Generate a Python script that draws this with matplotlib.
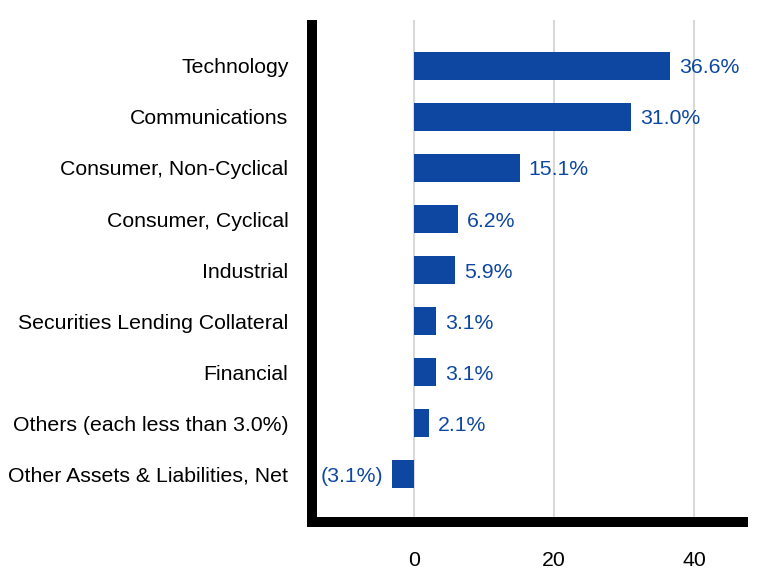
import matplotlib
matplotlib.use("Agg")
import matplotlib.pyplot as plt

plt.rcParams['font.family'] = ['Liberation Sans', 'DejaVu Sans']

sectors = ["Technology", "Communications", "Consumer, Non-Cyclical", "Consumer, Cyclical",
           "Industrial", "Securities Lending Collateral", "Financial",
           "Others (each less than 3.0%)", "Other Assets & Liabilities, Net"]
weights = [36.6, 31.0, 15.1, 6.2, 5.9, 3.1, 3.1, 2.1, -3.1]
x_ticks = [0, 20, 40]

bar_color = '#0d47a1'
fs = 15.3

fig = plt.figure(figsize=(7.8, 5.88), dpi=100)
ax = fig.add_axes([0.4, 0.112, 0.5526, 0.854])

ypos = list(range(len(sectors)))
ax.barh(ypos, weights, height=0.55, color=bar_color, zorder=3)

for y, v in zip(ypos, weights):
    if v >= 0:
        ax.annotate('{:.1f}%'.format(v), (v, y), xytext=(9, 0), textcoords='offset pixels',
                    ha='left', va='center_baseline', color=bar_color, fontsize=fs)
    else:
        ax.annotate('({:.1f}%)'.format(-v), (v, y), xytext=(-9, 0), textcoords='offset pixels',
                    ha='right', va='center_baseline', color=bar_color, fontsize=fs)

ax.set_xlim(-14.6, 47.0)
ax.set_ylim(8.94, -0.9)
ax.set_yticks(ypos)
ax.set_yticklabels(sectors, fontsize=fs)
ax.set_xticks(x_ticks)
ax.set_xticklabels([str(t) for t in x_ticks], fontsize=fs)
ax.tick_params(axis='y', length=0, pad=17)
ax.tick_params(axis='x', length=0, pad=21)

ax.grid(axis='x', color='#d9d9d9', linewidth=1.5, zorder=0)
ax.set_axisbelow(True)

for s in ['top', 'right']:
    ax.spines[s].set_visible(False)
for s in ['left', 'bottom']:
    ax.spines[s].set_linewidth(7.2)
    ax.spines[s].set_color('black')
ax.spines['left'].set_capstyle('butt')
ax.spines['bottom'].set_capstyle('projecting')

plt.savefig('out.png', dpi=100)
